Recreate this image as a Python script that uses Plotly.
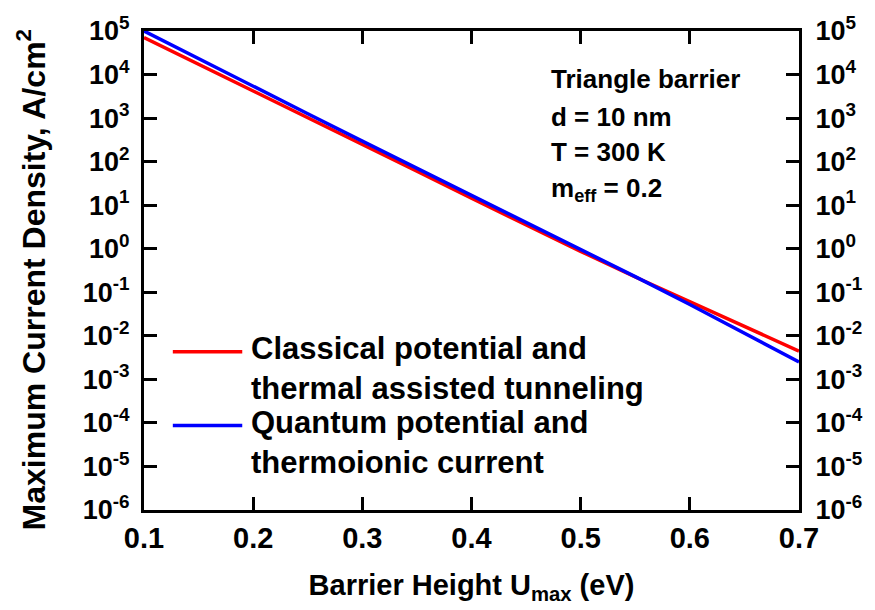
import plotly.graph_objects as go

# Barrier height (eV)
barrier_height = [0.10, 0.15, 0.20, 0.25, 0.30, 0.35, 0.40, 0.45, 0.50, 0.55, 0.60, 0.65, 0.70]
# log10 of maximum current density (A/cm^2)
log_classical = [4.85, 4.24, 3.63, 3.02, 2.40, 1.78, 1.16, 0.54, -0.06, -0.65, -1.22, -1.79, -2.35]
log_quantum = [5.00, 4.36, 3.73, 3.10, 2.47, 1.85, 1.23, 0.61, -0.01, -0.64, -1.28, -1.93, -2.60]

classical = [10 ** v for v in log_classical]
quantum = [10 ** v for v in log_quantum]

series_names = ["Classical potential and<br>thermal assisted tunneling",
                "Quantum potential and<br>thermoionic current"]
series_colors = ["#ff0000", "#0000ff"]

y_exponents = list(range(-6, 6))
y_tickvals = [10 ** e for e in y_exponents]
y_ticktext = [f"10<sup>{e}</sup>" for e in y_exponents]
x_tickvals = [0.1, 0.2, 0.3, 0.4, 0.5, 0.6, 0.7]
x_ticktext = ["0.1", "0.2", "0.3", "0.4", "0.5", "0.6", "0.7"]

info_lines = ["Triangle barrier", "d = 10 nm", "T = 300 K", "m<sub>eff</sub> = 0.2"]
x_title = "Barrier Height U<sub>max</sub> (eV)"
y_title = "Maximum Current Density, A/cm<sup>2</sup>"

FONT = "Liberation Sans, Arial, sans-serif"

fig = go.Figure()
fig.add_trace(go.Scatter(x=barrier_height, y=classical, mode="lines",
                         line=dict(color=series_colors[0], width=3.5),
                         name=series_names[0], showlegend=False))
fig.add_trace(go.Scatter(x=barrier_height, y=quantum, mode="lines",
                         line=dict(color=series_colors[1], width=3.5),
                         name=series_names[1], showlegend=False))
# invisible trace to activate right axis
fig.add_trace(go.Scatter(x=barrier_height, y=quantum, mode="lines", yaxis="y2",
                         line=dict(width=0), opacity=0, hoverinfo="skip", showlegend=False))

axis_common = dict(showline=True, linecolor="black", linewidth=3, ticks="inside",
                   ticklen=13, tickwidth=3, tickcolor="black", showgrid=False, zeroline=False)

fig.update_layout(
    width=875, height=610,
    margin=dict(l=144, r=70, t=23, b=100),
    paper_bgcolor="white", plot_bgcolor="white",
    font=dict(family=FONT, color="black", weight="bold"),
    xaxis=dict(range=[0.1, 0.7], tickvals=x_tickvals, ticktext=x_ticktext,
               mirror="ticks", tickfont=dict(size=29, family=FONT, weight="bold"),
               ticklabelstandoff=0,
               title=dict(text=x_title,
                          font=dict(size=29, family=FONT, weight="bold"), standoff=22),
               **axis_common),
    yaxis=dict(type="log", range=[-6, 5], tickvals=y_tickvals, ticktext=y_ticktext,
               mirror=True, tickfont=dict(size=27, family=FONT, weight="bold"),
               ticklabelstandoff=6, **axis_common),
    yaxis2=dict(type="log", range=[-6, 5], tickvals=y_tickvals, ticktext=y_ticktext,
                overlaying="y", side="right", tickfont=dict(size=27, family=FONT, weight="bold"),
                ticklabelstandoff=8, **axis_common),
)

# y-axis title
fig.add_annotation(xref="paper", yref="paper", x=-0.172, y=0.48, text=y_title,
                   textangle=-90, showarrow=False, xanchor="center", yanchor="middle",
                   font=dict(size=32, family=FONT, weight="bold"))

# info annotations
info_y = [0.899, 0.821, 0.747, 0.669]
for txt, yy in zip(info_lines, info_y):
    fig.add_annotation(xref="paper", yref="paper", x=0.619, y=yy, text=txt,
                       showarrow=False, xanchor="left", yanchor="middle",
                       font=dict(size=26, family=FONT, weight="bold"))

# manual legend
legend_line_y = [0.3306, 0.1766]
legend_text_y = [0.2957, 0.1407]
for name, col, ly, ty in zip(series_names, series_colors, legend_line_y, legend_text_y):
    fig.add_shape(type="line", xref="paper", yref="paper", x0=0.044, x1=0.150, y0=ly, y1=ly,
                  line=dict(color=col, width=3.5))
    fig.add_annotation(xref="paper", yref="paper", x=0.160, y=ty, text=name,
                       showarrow=False, xanchor="left", yanchor="middle", align="left",
                       font=dict(size=31, family=FONT, weight="bold"))

fig.write_html("out.html")
